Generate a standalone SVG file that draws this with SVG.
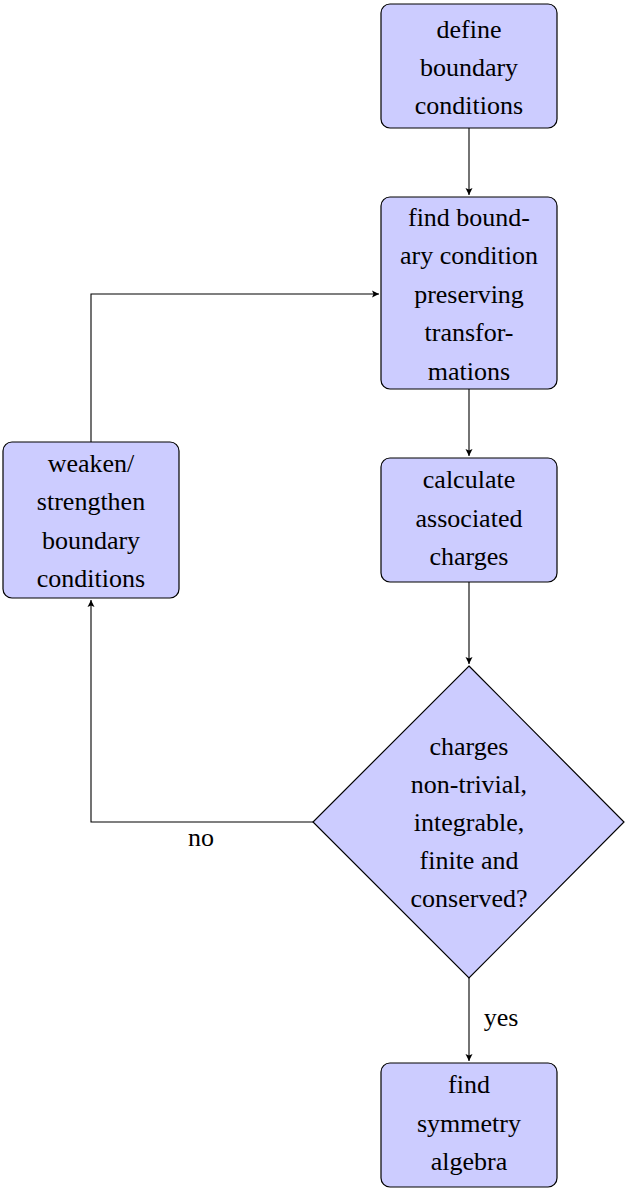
<svg xmlns="http://www.w3.org/2000/svg" width="625" height="1189" viewBox="0 0 625 1189">
<style>
.n{fill:#ccccff;stroke:#000;stroke-width:1.2}
.t{font-family:'Liberation Serif','Times New Roman','DejaVu Serif',serif;font-size:26px;fill:#000;text-anchor:middle}
.c{fill:none;stroke:#000;stroke-width:1.1}
</style>
<defs>
<marker id="a" markerWidth="8" markerHeight="8" refX="7" refY="4" orient="auto" markerUnits="userSpaceOnUse">
<path d="M0,0.5 L7,4 L0,7.5 L1.5,4 Z" fill="#000"/>
</marker>
</defs>
<rect width="625" height="1189" fill="#fff"/>
<g id="connectors">
<path class="c" d="M469,128 V195" marker-end="url(#a)"/>
<path class="c" d="M469,389 V456" marker-end="url(#a)"/>
<path class="c" d="M469,582 V664" marker-end="url(#a)"/>
<path class="c" d="M469,978 V1061" marker-end="url(#a)"/>
<path class="c" d="M313,822 H91 V600" marker-end="url(#a)"/>
<path class="c" d="M91,442 V294 H379" marker-end="url(#a)"/>
<text class="t" x="201" y="846">no</text>
<text class="t" x="501" y="1026">yes</text>
</g>
<g id="define">
<rect class="n" x="381" y="4" width="176" height="124" rx="9"/>
<text class="t" x="469" y="38">define</text>
<text class="t" x="469" y="76">boundary</text>
<text class="t" x="469" y="114">conditions</text>
</g>
<g id="find">
<rect class="n" x="381" y="197" width="176" height="192" rx="9"/>
<text class="t" x="469" y="226">find bound-</text>
<text class="t" x="469" y="264">ary condition</text>
<text class="t" x="469" y="303">preserving</text>
<text class="t" x="469" y="341">transfor-</text>
<text class="t" x="469" y="380">mations</text>
</g>
<g id="calculate">
<rect class="n" x="381" y="458" width="176" height="124" rx="9"/>
<text class="t" x="469" y="488">calculate</text>
<text class="t" x="469" y="527">associated</text>
<text class="t" x="469" y="565">charges</text>
</g>
<g id="decision">
<polygon class="n" points="469,666 624,822 469,978 313,822"/>
<text class="t" x="469" y="755">charges</text>
<text class="t" x="469" y="793">non-trivial,</text>
<text class="t" x="469" y="831">integrable,</text>
<text class="t" x="469" y="869">finite and</text>
<text class="t" x="469" y="907">conserved?</text>
</g>
<g id="weaken">
<rect class="n" x="3" y="442" width="176" height="156" rx="9"/>
<text class="t" x="91" y="472">weaken/</text>
<text class="t" x="91" y="510">strengthen</text>
<text class="t" x="91" y="549">boundary</text>
<text class="t" x="91" y="587">conditions</text>
</g>
<g id="symmetry">
<rect class="n" x="381" y="1063" width="176" height="124" rx="9"/>
<text class="t" x="469" y="1093">find</text>
<text class="t" x="469" y="1132">symmetry</text>
<text class="t" x="469" y="1170">algebra</text>
</g>
</svg>
